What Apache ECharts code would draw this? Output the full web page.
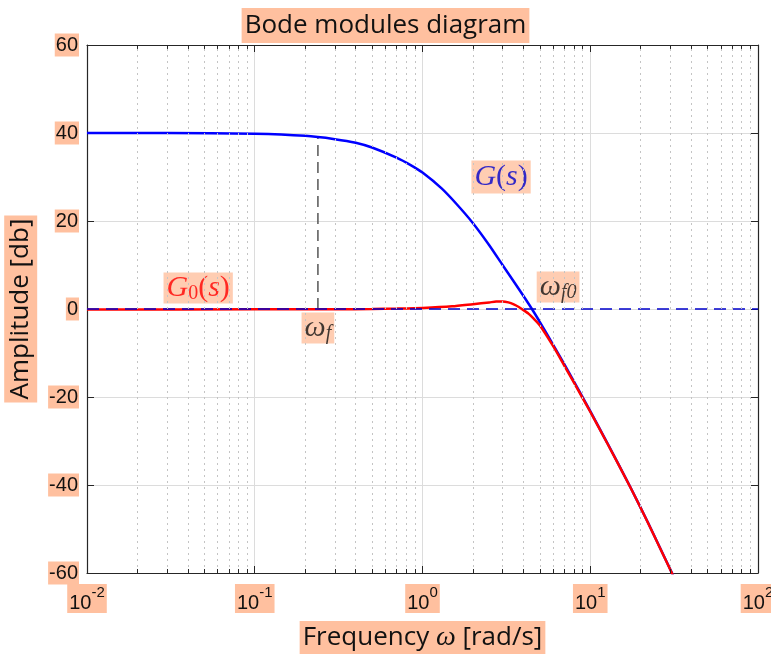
<!DOCTYPE html>
<html>
<head>
<meta charset="utf-8">
<script src="https://cdn.jsdelivr.net/npm/echarts@6/dist/echarts.min.js"></script>
<style>html,body{margin:0;padding:0;background:#fff}#main{width:771px;height:656px}</style>
</head>
<body>
<div id="main"></div>
<script>
// open loop G(s) (rad/s, dB)
var freqG = [0.01, 0.03, 0.1, 0.2, 0.3, 0.4, 0.5, 0.7, 0.85, 1.0, 1.3, 1.6, 2.0, 2.5, 3.0, 3.5, 4.0, 4.5, 5.0, 6.0, 7.0, 8.0, 8.9, 10, 12.6, 17.3, 22, 26, 30.6, 35];
var magG  = [40.0, 39.98, 39.83, 39.35, 38.6, 37.8, 36.7, 34.4, 32.7, 31.0, 27.4, 23.8, 19.5, 14.5, 10.0, 6.25, 2.95, -0.05, -2.9, -8.1, -12.55, -16.5, -19.7, -23.2, -30.35, -40.4, -48.4, -54.2, -59.9, -64.7];
// closed loop G0(s)
var freqG0 = [0.01, 0.1, 0.3, 0.5, 0.7, 1.0, 1.5, 2.0, 2.5, 2.75, 3.0, 3.25, 3.5, 3.75, 4.0, 4.3, 4.6, 5.0, 6.0, 7.0, 8.0, 8.9, 10, 12.6, 17.3, 22, 26, 30.6, 35];
var magG0  = [-0.09, -0.08, -0.05, 0.0, 0.1, 0.25, 0.6, 1.1, 1.5, 1.68, 1.72, 1.5, 1.05, 0.45, -0.25, -1.1, -2.2, -3.7, -8.4, -12.85, -16.75, -19.9, -23.35, -30.45, -40.45, -48.45, -54.25, -59.95, -64.75];
var yTicks = [-60, -40, -20, 0, 20, 40, 60];
var omegaF = 0.238, magAtOmegaF = 39.2;
// annotations: [freq, dB, text]
var notes = [
  [2.94, 30.0, '{bi|G}{br|(}{bi|s}{br|)}'],
  [0.046, 4.8, '{ri|G}{rsub|0}{rr|(}{ri|s}{rr|)}'],
  [0.238, -4.3, '{ki|ω}{ksub|f}'],
  [6.43, 5.0, '{ki|ω}{ksub|f0}']
];

var PEACH = '#ffc09f';
var AX = '#262626';
var minorFreqs = [];
for (var d = -2; d < 2; d++) {
  for (var k = 2; k <= 9; k++) minorFreqs.push(+(k * Math.pow(10, d)).toPrecision(3));
}
var markData = [];
minorFreqs.forEach(function (f) {
  markData.push({ xAxis: f, lineStyle: { color: '#c4c4c4', type: [2, 4], width: 1 } });
  markData.push([{ coord: [f, -60], lineStyle: { color: AX, type: 'solid', width: 1 } }, { coord: [f, -59.1] }]);
  markData.push([{ coord: [f, 60], lineStyle: { color: AX, type: 'solid', width: 1 } }, { coord: [f, 59.1] }]);
});

function pairs(xs, ys) { return xs.map(function (x, i) { return [x, ys[i]]; }); }

var tickFont = 'Liberation Sans';
var textFont = 'Open Sans';
var mathFont = 'Liberation Serif';

var option = {
  animation: false,
  title: {
    text: 'Bode modules diagram', left: 'center', top: 8,
    backgroundColor: PEACH, padding: [0, 3],
    textStyle: { fontFamily: textFont, fontSize: 26, fontWeight: 'normal', color: '#111', lineHeight: 35 }
  },
  grid: { left: 87, right: 13, top: 45, bottom: 83, containLabel: false, outerBoundsMode: 'none' },
  xAxis: [{
    type: 'log', logBase: 10, min: 0.01, max: 100, position: 'bottom',
    name: '{t|Frequency }{w|ω}{t| [rad/s]}', nameLocation: 'middle', nameGap: 48,
    nameTextStyle: {
      backgroundColor: PEACH, padding: [0, 3],
      rich: {
        t: { fontFamily: textFont, fontSize: 26, color: '#111', lineHeight: 33 },
        w: { fontFamily: mathFont, fontStyle: 'italic', fontSize: 28, color: '#111', lineHeight: 33 }
      }
    },
    axisLine: { onZero: false, lineStyle: { color: AX, width: 1.2 } },
    axisTick: { inside: true, length: 7, lineStyle: { color: AX } },
    splitLine: { show: true, lineStyle: { color: '#dcdcdc' } },
    axisLabel: {
      margin: 11, backgroundColor: PEACH, padding: [1, 2, 0, 2],
      formatter: function (v) {
        var e = Math.round(Math.log(v) / Math.LN10);
        return '{b|10}{s|' + e + '}';
      },
      rich: {
        b: { fontFamily: tickFont, fontSize: 20, color: '#111', lineHeight: 28, verticalAlign: 'bottom' },
        s: { fontFamily: tickFont, fontSize: 15, color: '#111', lineHeight: 14, verticalAlign: 'top' }
      }
    }
  }, {
    type: 'log', logBase: 10, min: 0.01, max: 100, position: 'top',
    axisLine: { onZero: false, lineStyle: { color: AX, width: 1.2 } },
    axisTick: { inside: true, length: 7, lineStyle: { color: AX } },
    axisLabel: { show: false }, splitLine: { show: false }
  }],
  yAxis: [{
    type: 'value', min: yTicks[0], max: yTicks[yTicks.length - 1], interval: 20,
    name: 'Amplitude [db]', nameLocation: 'middle', nameGap: 45,
    nameTextStyle: { fontFamily: textFont, fontSize: 26, color: '#111', backgroundColor: PEACH, padding: [0, 3], lineHeight: 33 },
    axisLine: { show: true, onZero: false, lineStyle: { color: AX, width: 1.2 } },
    axisTick: { show: true, inside: true, length: 7, lineStyle: { color: AX } },
    splitLine: { show: true, lineStyle: { color: '#dcdcdc' } },
    axisLabel: {
      margin: 8, fontFamily: tickFont, fontSize: 20, color: '#111',
      backgroundColor: PEACH, padding: [1, 1, 0, 1], lineHeight: 22
    }
  }, {
    type: 'value', min: yTicks[0], max: yTicks[yTicks.length - 1], interval: 20, position: 'right',
    axisLine: { show: true, onZero: false, lineStyle: { color: AX, width: 1.2 } },
    axisTick: { show: true, inside: true, length: 7, lineStyle: { color: AX } },
    axisLabel: { show: false }, splitLine: { show: false }
  }],
  series: [{
    type: 'line', silent: true, symbol: 'none',
    data: [[omegaF, 0], [omegaF, magAtOmegaF]],
    lineStyle: { color: '#555', width: 1.5, type: [11, 6] },
    markLine: { silent: true, symbol: ['none', 'none'], label: { show: false }, animation: false, data: markData }
  }, {
    name: 'G(s)', type: 'line', symbol: 'none', smooth: 0.25,
    data: pairs(freqG, magG),
    lineStyle: { color: '#0000ff', width: 2.5 }
  }, {
    name: 'G0(s)', type: 'line', symbol: 'none', smooth: 0.25,
    data: pairs(freqG0, magG0),
    lineStyle: { color: '#ff0000', width: 2.5 }
  }, {
    type: 'line', symbol: 'none', silent: true,
    data: [[0.01, 0], [100, 0]],
    lineStyle: { color: '#0000cc', width: 1.3, type: [12, 7] }
  }, {
    type: 'scatter', symbolSize: 1, silent: true,
    itemStyle: { color: 'rgba(0,0,0,0)' },
    data: notes.map(function (n) { return { value: [n[0], n[1]], label: { formatter: n[2] } }; }),
    label: {
      show: true, position: 'inside', backgroundColor: PEACH, padding: [0, 3],
      rich: {
        bi: { fontFamily: mathFont, fontStyle: 'italic', fontSize: 30, color: '#0000cc', lineHeight: 33 },
        br: { fontFamily: mathFont, fontSize: 30, color: '#0000cc', lineHeight: 33 },
        ri: { fontFamily: mathFont, fontStyle: 'italic', fontSize: 30, color: '#ff0000', lineHeight: 31 },
        rr: { fontFamily: mathFont, fontSize: 30, color: '#ff0000', lineHeight: 31 },
        rsub: { fontFamily: mathFont, fontSize: 20, color: '#ff0000', lineHeight: 18, verticalAlign: 'bottom' },
        ki: { fontFamily: mathFont, fontStyle: 'italic', fontSize: 30, color: '#111', lineHeight: 31 },
        ksub: { fontFamily: mathFont, fontStyle: 'italic', fontSize: 20, color: '#111', lineHeight: 18, verticalAlign: 'bottom' }
      }
    }
  }]
};

var myChart = echarts.init(document.getElementById('main'));
myChart.setOption(option);
</script>
</body>
</html>
